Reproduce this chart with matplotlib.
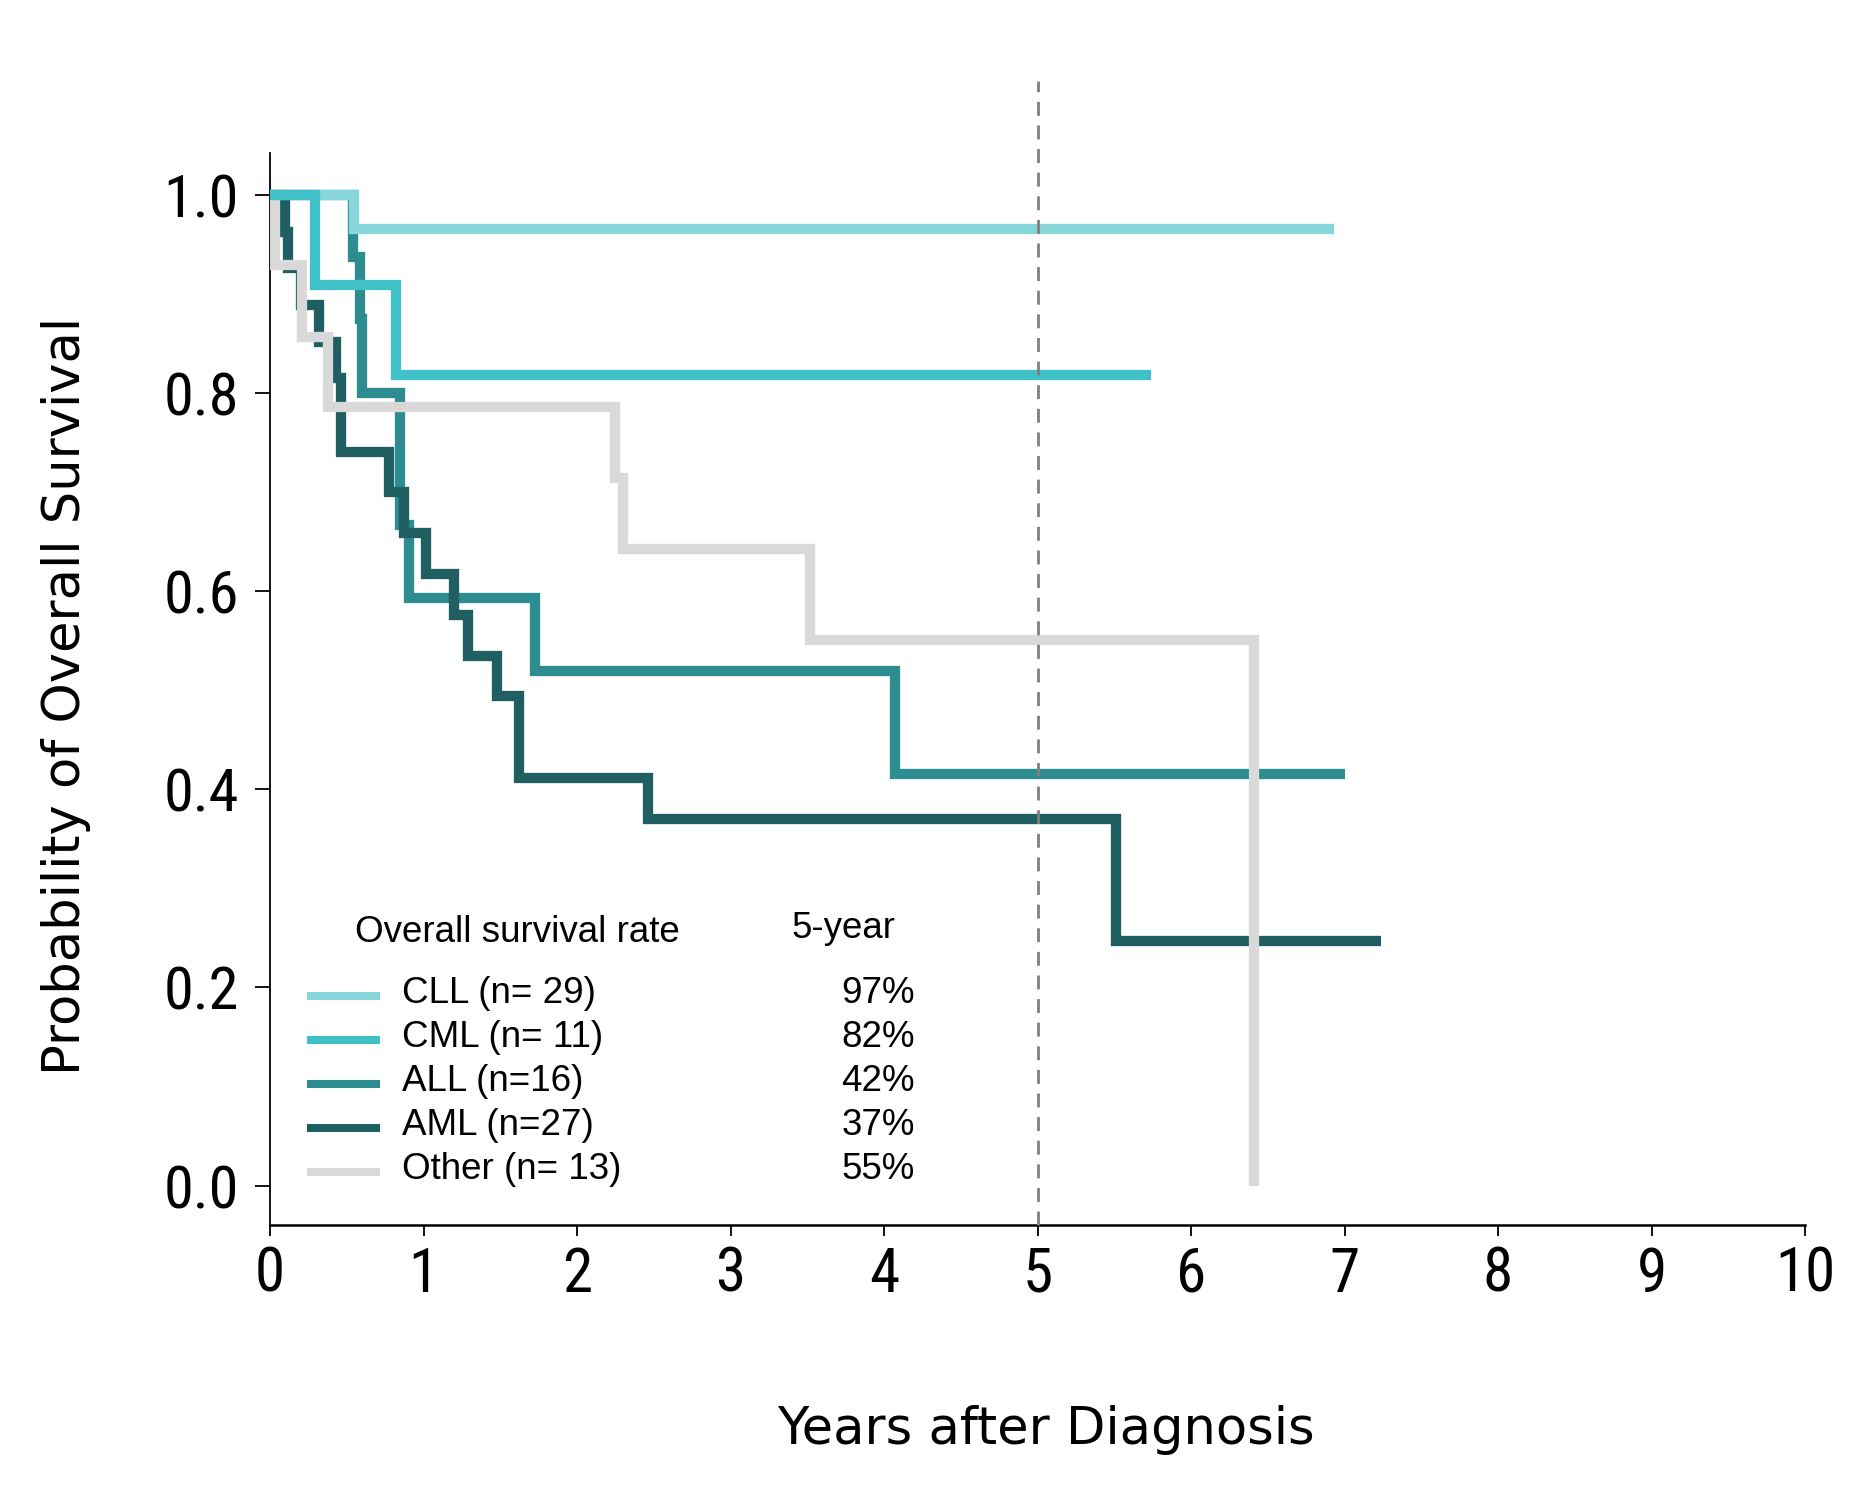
import matplotlib
matplotlib.use("Agg")
import matplotlib.pyplot as plt
from matplotlib import font_manager
from matplotlib.lines import Line2D

# ---------------- data ----------------
groups = ["CLL", "CML", "ALL", "AML", "Other"]
legend_labels = ["CLL (n= 29)", "CML (n= 11)", "ALL (n=16)", "AML (n=27)", "Other (n= 13)"]
five_year_rates = ["97%", "82%", "42%", "37%", "55%"]
colors = ["#86D6DA", "#40C0C7", "#2D8C90", "#1F5F61", "#D9D9D9"]

cll_time = [0, 0.55, 6.93]
cll_surv = [1.0, 0.966, 0.966]

cml_time = [0, 0.29, 0.82, 5.74]
cml_surv = [1.0, 0.909, 0.818, 0.818]

all_time = [0, 0.54, 0.588, 0.60, 0.845, 0.905, 1.725, 4.07, 7.0]
all_surv = [1.0, 0.9375, 0.875, 0.80, 0.667, 0.593, 0.519, 0.415, 0.415]

aml_time = [0, 0.098, 0.115, 0.20, 0.321, 0.43, 0.462, 0.777, 0.874, 1.016,
            1.196, 1.287, 1.478, 1.623, 2.46, 5.51, 7.24]
aml_surv = [1.0, 0.963, 0.926, 0.889, 0.852, 0.815, 0.741, 0.700, 0.659, 0.617,
            0.576, 0.535, 0.494, 0.411, 0.370, 0.247, 0.247]

other_time = [0, 0.03, 0.206, 0.376, 2.246, 2.30, 3.52, 6.41]
other_surv = [1.0, 0.929, 0.857, 0.786, 0.714, 0.643, 0.551, 0.0]

x_ticks = list(range(0, 11))
y_ticks = [0.0, 0.2, 0.4, 0.6, 0.8, 1.0]
five_year_mark = 5

series = {
    "CLL": (cll_time, cll_surv),
    "CML": (cml_time, cml_surv),
    "ALL": (all_time, all_surv),
    "AML": (aml_time, aml_surv),
    "Other": (other_time, other_surv),
}
# drawing order (bottom -> top)
z_order = {"ALL": 2, "AML": 3, "Other": 4, "CLL": 5, "CML": 6}

# ---------------- fonts ----------------
names = {f.name for f in font_manager.fontManager.ttflist}
tick_font = "Liberation Sans"
for cand in ["Liberation Sans Narrow", "Arial Narrow", "Roboto Condensed",
             "PT Sans Narrow", "Archivo Narrow", "Encode Sans Condensed",
             "Open Sans Condensed", "Sofia Sans Condensed"]:
    if cand in names:
        tick_font = cand
        break
legend_font = "Liberation Sans"
label_font = "DejaVu Sans"

plt.rcParams["lines.scale_dashes"] = False

fig = plt.figure(figsize=(18.74, 14.89), dpi=100)
ax = fig.add_axes([0.1441, 0.1773, 0.8191, 0.7200])

lw = 7.4
for g, c in zip(groups, colors):
    t, s = series[g]
    ax.step(t, s, where="post", color=c, lw=lw, solid_joinstyle="miter",
            solid_capstyle="butt", zorder=z_order[g])

ax.set_xlim(0, 10)
ax.set_ylim(-0.0398, 1.0424)

ax.axvline(five_year_mark, ymin=0, ymax=(1.115 + 0.0398) / (1.0424 + 0.0398),
           color="#7F7F7F", lw=2.0, dashes=(10, 7), clip_on=False, zorder=10)

for side in ["top", "right"]:
    ax.spines[side].set_visible(False)
ax.spines["left"].set_linewidth(1.3)
ax.spines["bottom"].set_linewidth(1.8)

ax.set_xticks(x_ticks)
ax.set_xticklabels([str(v) for v in x_ticks], fontfamily=tick_font,
                   fontweight="normal", fontsize=44)
ax.set_yticks(y_ticks)
ax.set_yticklabels([f"{v:.1f}" for v in y_ticks], fontfamily=tick_font,
                   fontweight="normal", fontsize=43.5)
ax.tick_params(axis="x", direction="out", length=8, width=1.3, pad=7)
ax.tick_params(axis="y", direction="out", length=10.5, width=1.3, pad=12)

fig.text(0.5582, 0.0302, "Years after Diagnosis", fontfamily=label_font, fontsize=36.8,
         ha="center", va="baseline")
fig.text(0.0352, 0.5326, "Probability of Overall Survival", fontfamily=label_font,
         fontsize=36.8, ha="center", va="center", rotation=90)

# ---------------- legend block ----------------
leg_fs = 26.5
ax.text(0.0554, 0.2643, "Overall survival rate", transform=ax.transAxes,
        fontfamily=legend_font, fontsize=leg_fs, ha="left", va="baseline")
ax.text(0.3394, 0.2677, "5-year", transform=ax.transAxes,
        fontfamily=legend_font, fontsize=leg_fs, ha="left", va="baseline")

base0 = 0.2068
step = 0.0410
for i, (lab, rate, c) in enumerate(zip(legend_labels, five_year_rates, colors)):
    yb = base0 - i * step
    yk = yb + 0.0071
    ax.add_line(Line2D([0.024, 0.0714], [yk, yk], transform=ax.transAxes,
                       color=c, lw=5.8, solid_capstyle="butt", clip_on=False))
    ax.text(0.0857, yb, lab, transform=ax.transAxes, fontfamily=legend_font,
            fontsize=leg_fs, ha="left", va="baseline")
    ax.text(0.4202, yb, rate, transform=ax.transAxes, fontfamily=legend_font,
            fontsize=leg_fs, ha="right", va="baseline")

fig.savefig("out.png", dpi=100, facecolor="white")
